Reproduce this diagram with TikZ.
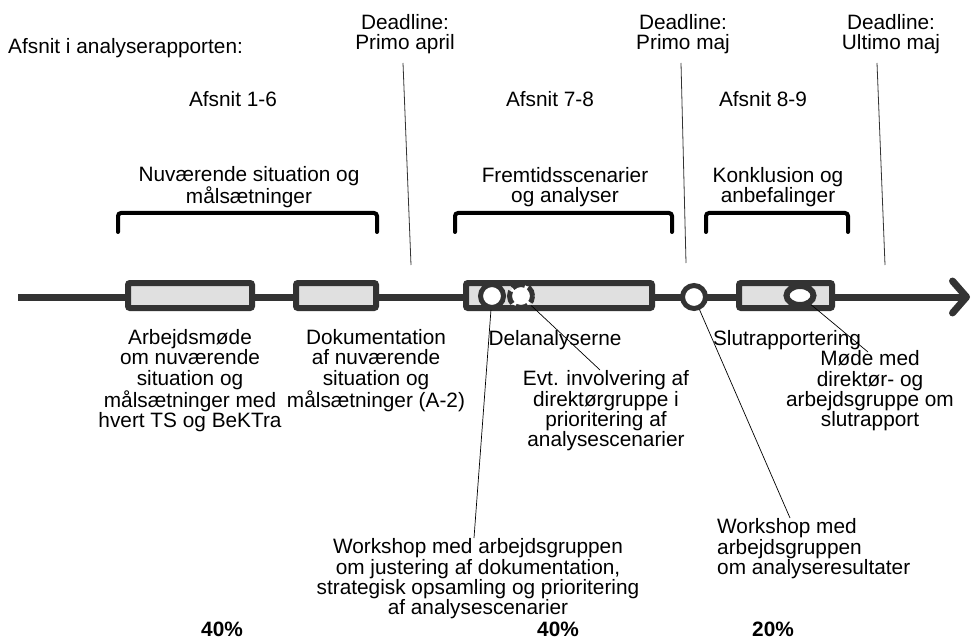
\documentclass[tikz,border=0pt]{standalone}
\usepackage{fontspec}
\setmainfont{Liberation Sans}
\usetikzlibrary{arrows.meta,shapes.geometric}
\definecolor{edge}{HTML}{333333}
\definecolor{barfill}{HTML}{E0E0E0}
\tikzset{
  txt/.style={inner sep=0pt,align=center,font=\fontsize{20.8}{20.4}\selectfont},
  pct/.style={inner sep=0pt,font=\fontsize{20.8}{20.4}\selectfont\bfseries},
  phase/.style={draw=edge,line width=6pt,fill=barfill,rounded corners=2pt,minimum height=25pt,inner sep=0pt},
  milestone/.style={circle,draw=edge,line width=5pt,fill=white,minimum size=23pt,inner sep=0pt},
  pointer/.style={draw=black,line width=0.7pt},
  deadline/.style={draw=black!80,line width=0.8pt},
  brace/.style={draw=black,line width=4pt,rounded corners=3pt,line cap=round},
}
\begin{document}
\begin{tikzpicture}[x=1pt,y=-1pt]
\useasboundingbox (0,0) rectangle (977,639);

% headings
\node[txt,anchor=west] (head) at (8,48) {Afsnit i analyserapporten:};
\node[txt] (dl1) at (405,34) {Deadline:\\Primo april};
\node[txt] (dl2) at (683,34) {Deadline:\\Primo maj};
\node[txt] (dl3) at (891,34) {Deadline:\\Ultimo maj};
\node[txt] (af1) at (233,99) {Afsnit 1-6};
\node[txt] (af2) at (550,99) {Afsnit 7-8};
\node[txt] (af3) at (763,99) {Afsnit 8-9};
\node[txt] (ph1) at (249,187) {Nuværende situation og\\målsætninger};
\node[txt] (ph2) at (565,187) {Fremtidsscenarier\\og analyser};
\node[txt] (ph3) at (778,187) {Konklusion og\\anbefalinger};

% braces over the phases
\coordinate (b1a) at (118,232); \coordinate (b1b) at (377,232);
\coordinate (b2a) at (455,232); \coordinate (b2b) at (672,232);
\coordinate (b3a) at (706,232); \coordinate (b3b) at (848,232);
\draw[brace] (b1a) -- ++(0,-19) -| (b1b);
\draw[brace] (b2a) -- ++(0,-19) -| (b2b);
\draw[brace] (b3a) -- ++(0,-19) -| (b3b);

% deadline markers
\coordinate (d1t) at (403,63); \coordinate (d1b) at (411,265);
\coordinate (d2t) at (681,63); \coordinate (d2b) at (686,263);
\coordinate (d3t) at (877,63); \coordinate (d3b) at (885,265);
\draw[deadline] (d1t) -- (d1b);
\draw[deadline] (d2t) -- (d2b);
\draw[deadline] (d3t) -- (d3b);

% time axis
\coordinate (t0) at (18,297);
\coordinate (t1) at (970,297);
\draw[edge,line width=7pt,-{Straight Barb[length=14pt,width=32pt,round]}] (t0) -- (t1);

% phases on the axis
\node[phase,minimum width=124pt] (p1) at (190,295.5) {};
\node[phase,minimum width=80pt] (p2) at (336,295.5) {};
\node[phase,minimum width=186pt] (p3) at (559,295.5) {};
\node[phase,minimum width=93pt] (p4) at (785.5,295.5) {};

% meetings
\node[milestone] (m1) at (492,296) {};
\node[milestone,dash pattern=on 13pt off 4pt,dash phase=3pt] (m2) at (521,296) {};
\node[milestone] (m3) at (694,297) {};
\node[milestone,ellipse,line width=6pt,minimum width=27pt,minimum height=19pt] (m4) at (800,295.5) {};

% labels below the axis
\node[txt] (l1) at (190,380.5) {Arbejdsmøde\\om nuværende\\situation og\\målsætninger med\\hvert TS og BeKTra};
\node[txt] (l2) at (376,370.5) {Dokumentation\\af nuværende\\situation og\\målsætninger (A-2)};
\node[txt] (l3) at (555,340) {Delanalyserne};
\node[txt] (l4) at (787,340) {Slutrapportering};
\node[txt] (l5) at (606,411) {Evt. involvering af\\direktørgruppe i\\prioritering af\\analysescenarier};
\node[txt] (l6) at (870,391) {Møde med\\direktør- og\\arbejdsgruppe om\\slutrapport};
\node[txt] (l7) at (478,579) {Workshop med arbejdsgruppen\\om justering af dokumentation,\\strategisk opsamling og prioritering\\af analysescenarier};
\node[txt,align=left,anchor=west] (l8) at (717,549) {Workshop med\\arbejdsgruppen\\om analyseresultater};

% pointers from meetings to their descriptions
\coordinate (e1) at (474,538);
\coordinate (e2) at (600,370);
\coordinate (e3) at (790,518);
\coordinate (e4) at (868,352);
\draw[pointer] (m1) -- (e1);
\draw[pointer] (m2) -- (e2);
\draw[pointer] (m3) -- (e3);
\draw[pointer] (m4) -- (e4);

% share of effort
\node[pct] (s1) at (222,629) {40\%};
\node[pct] (s2) at (558,629) {40\%};
\node[pct] (s3) at (773,629) {20\%};
\end{tikzpicture}
\end{document}
